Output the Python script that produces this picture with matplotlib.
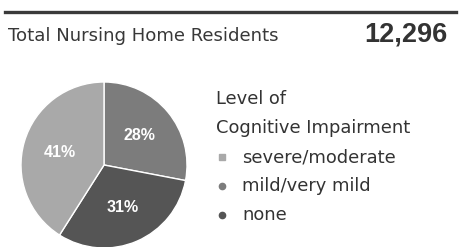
import matplotlib
matplotlib.use("Agg")
from matplotlib import pyplot as plt
from matplotlib.lines import Line2D

plt.rcParams["font.family"] = ["DejaVu Sans"]

# data
title = "Total Nursing Home Residents"
total = "12,296"
legend_title = ["Level of", "Cognitive Impairment"]
categories = ["mild/very mild", "none", "severe/moderate"]
shares = [28, 31, 41]
colors = ["#7c7c7c", "#555555", "#a9a9a9"]
legend_order = ["severe/moderate", "mild/very mild", "none"]
legend_markers = ["s", "o", "o"]

W, H = 460, 247
fig = plt.figure(figsize=(W / 100, H / 100), dpi=100)
fig.patch.set_facecolor("white")

def fx(x):
    return x / W

def fy(y):
    return 1 - y / H

# thick rule at top
fig.add_artist(Line2D([fx(5), fx(456)], [fy(12), fy(12)], color="#3a3a3a", linewidth=2.4))

fig.text(fx(8), fy(36), title, fontsize=13.1, color="#383838", va="center", ha="left")
fig.text(fx(448), fy(35), total, fontsize=19.5, fontweight="bold", family="Liberation Sans",
         color="#333333", va="center", ha="right")

# pie
ax = fig.add_axes([fx(21), fy(248), fx(166), 166 / H])
wedges, texts, autotexts = ax.pie(
    shares, colors=colors, startangle=90, counterclock=False,
    autopct=lambda p: f"{p:.0f}%", pctdistance=0.56,
    wedgeprops={"edgecolor": "white", "linewidth": 1.0},
    textprops={"color": "white", "fontsize": 11.5, "fontweight": "bold",
               "family": "Liberation Sans"},
)
ax.set_xlim(-1.0, 1.0)
ax.set_ylim(-1.0, 1.0)
ax.set_aspect("equal")

# legend
fs = 12.9
fig.text(fx(216), fy(99), legend_title[0], fontsize=fs, color="#333333", va="center", ha="left")
fig.text(fx(216), fy(128), legend_title[1], fontsize=fs, color="#333333", va="center", ha="left")
ys = [157, 186, 215]
for name, m, y in zip(legend_order, legend_markers, ys):
    c = colors[categories.index(name)]
    fig.add_artist(Line2D([fx(222)], [fy(y)], marker=m, markersize=4.5, color=c, linestyle="none"))
    fig.text(fx(242), fy(y), name, fontsize=fs, color="#333333", va="center", ha="left")

fig.savefig("out.png", dpi=100)
